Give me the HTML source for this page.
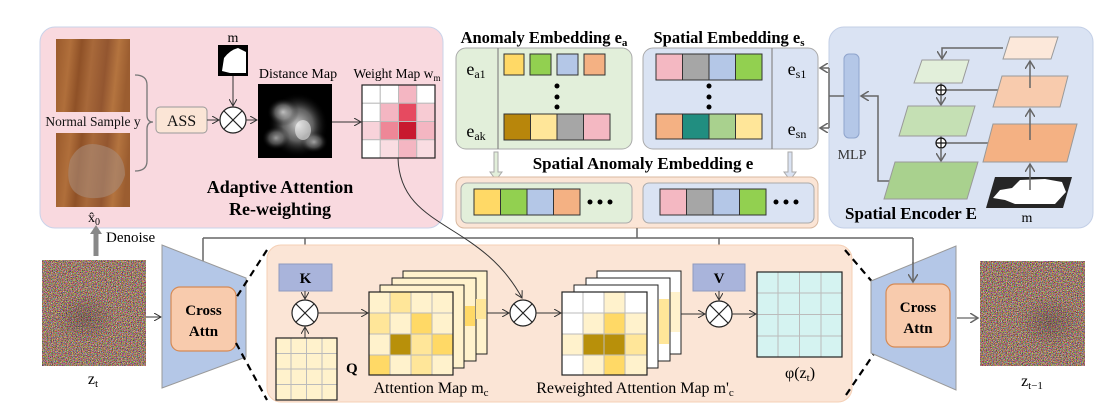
<!DOCTYPE html>
<html><head><meta charset="utf-8"><style>
html,body{margin:0;padding:0;background:#fff;}
svg{display:block;font-family:"Liberation Serif",serif;}
</style></head><body>
<svg width="1108" height="417" viewBox="0 0 1108 417" xmlns="http://www.w3.org/2000/svg">
<defs>
<marker id="ar" markerWidth="8" markerHeight="8" refX="7" refY="4" orient="auto" markerUnits="userSpaceOnUse"><path d="M0,0 L7,4 L0,8" fill="none" stroke="#333" stroke-width="1"/></marker>
<marker id="arg" markerWidth="10" markerHeight="10" refX="8" refY="5" orient="auto" markerUnits="userSpaceOnUse"><path d="M0,0 L8,5 L0,10" fill="none" stroke="#666" stroke-width="1.5"/></marker>
<filter id="noise" x="0" y="0" width="100%" height="100%" color-interpolation-filters="sRGB"><feTurbulence type="fractalNoise" baseFrequency="1.2" numOctaves="1" seed="3"/><feColorMatrix type="matrix" values="2 0 0 0 -0.4  0 2 0 0 -0.52  0 0 2 0 -0.58  0 0 0 0 1"/></filter>
<linearGradient id="wood" x1="0" y1="0" x2="1" y2="0.1">
<stop offset="0" stop-color="#9a5a2c"/><stop offset="0.2" stop-color="#b06f3b"/><stop offset="0.35" stop-color="#8f5127"/><stop offset="0.5" stop-color="#a8693a"/><stop offset="0.7" stop-color="#935630"/><stop offset="0.85" stop-color="#b4743f"/><stop offset="1" stop-color="#9b5d30"/></linearGradient>
<radialGradient id="blob" cx="0.5" cy="0.5" r="0.5"><stop offset="0" stop-color="#fff"/><stop offset="0.5" stop-color="#aaa" stop-opacity="0.7"/><stop offset="1" stop-color="#000" stop-opacity="0"/></radialGradient>
<radialGradient id="dark" cx="0.5" cy="0.5" r="0.5"><stop offset="0" stop-color="#3a2a30" stop-opacity="0.3"/><stop offset="1" stop-color="#3a2a30" stop-opacity="0"/></radialGradient>
</defs>

<!-- Pink panel -->
<rect x="40" y="27" width="403" height="201" rx="15" fill="#f9d9df" stroke="#c9d3ea" stroke-width="1"/>
<rect x="56" y="39" width="74" height="73" fill="url(#wood)"/>
<rect x="56" y="133" width="74" height="74" fill="url(#wood)"/>
<path d="M70,160 Q80,140 100,145 Q125,150 125,175 Q118,200 90,198 Q62,195 70,160Z" fill="#a88a78" opacity="0.6"/>
<text x="93" y="126" font-size="13.5" text-anchor="middle" fill="#111">Normal Sample y</text>
<path d="M135,75 Q147,75 147,85 L147,115 Q147,122 153,122 Q147,122 147,129 L147,161 Q147,171 135,171" fill="none" stroke="#777" stroke-width="1.3"/>
<rect x="156" y="107" width="51" height="26" rx="4" fill="#fbe5d6" stroke="#999"/>
<text x="181.5" y="126" font-size="16" text-anchor="middle" fill="#111">ASS</text>
<line x1="207" y1="120" x2="219" y2="120" stroke="#333" marker-end="url(#ar)"/>
<text x="233" y="42" font-size="14" text-anchor="middle">m</text>
<rect x="218" y="45" width="30" height="31" fill="#000"/>
<path d="M222,71 L224,58 Q230,50 238,48 L246,52 L246,73 L230,73 Z" fill="#fff"/>
<line x1="233" y1="76" x2="233" y2="106" stroke="#333" marker-end="url(#ar)"/>
<circle cx="233" cy="120" r="13" fill="#fff" stroke="#222" stroke-width="1.2"/>
<path d="M224,111 L242,129 M242,111 L224,129" stroke="#222" stroke-width="1.2"/>
<line x1="246" y1="120" x2="257" y2="120" stroke="#333" marker-end="url(#ar)"/>
<text x="298" y="78" font-size="14" text-anchor="middle">Distance Map</text>
<rect x="258" y="84" width="74" height="74" fill="#000"/>
<ellipse cx="298" cy="125" rx="30" ry="32" fill="url(#blob)" opacity="0.8"/>
<ellipse cx="283" cy="112" rx="16" ry="14" fill="url(#blob)" opacity="0.7"/>
<ellipse cx="276" cy="138" rx="14" ry="12" fill="url(#blob)" opacity="0.6"/>
<ellipse cx="314" cy="142" rx="14" ry="11" fill="url(#blob)" opacity="0.6"/>
<ellipse cx="303" cy="130" rx="8" ry="10" fill="#fff" opacity="0.5"/>
<line x1="332" y1="122" x2="361" y2="122" stroke="#333" marker-end="url(#ar)"/>
<text x="397" y="78" font-size="13.5" text-anchor="middle">Weight Map w<tspan font-size="9" dy="3">m</tspan></text>
<g stroke="#bbb" stroke-width="1">
<rect x="362" y="85" width="18.25" height="18.25" fill="#fff"/><rect x="380.25" y="85" width="18.25" height="18.25" fill="#fff"/><rect x="398.5" y="85" width="18.25" height="18.25" fill="#f4b6c2"/><rect x="416.75" y="85" width="18.25" height="18.25" fill="#fff"/>
<rect x="362" y="103.25" width="18.25" height="18.25" fill="#fff"/><rect x="380.25" y="103.25" width="18.25" height="18.25" fill="#f4b6c2"/><rect x="398.5" y="103.25" width="18.25" height="18.25" fill="#e64a60"/><rect x="416.75" y="103.25" width="18.25" height="18.25" fill="#f7cbd3"/>
<rect x="362" y="121.5" width="18.25" height="18.25" fill="#f8d3da"/><rect x="380.25" y="121.5" width="18.25" height="18.25" fill="#ee8797"/><rect x="398.5" y="121.5" width="18.25" height="18.25" fill="#c8192f"/><rect x="416.75" y="121.5" width="18.25" height="18.25" fill="#f4b6c2"/>
<rect x="362" y="139.75" width="18.25" height="18.25" fill="#fff"/><rect x="380.25" y="139.75" width="18.25" height="18.25" fill="#f9dde2"/><rect x="398.5" y="139.75" width="18.25" height="18.25" fill="#f4b6c2"/><rect x="416.75" y="139.75" width="18.25" height="18.25" fill="#f9dde2"/>
</g>
<rect x="362" y="85" width="73" height="73" fill="none" stroke="#222" stroke-width="1.2"/>
<text x="280" y="193" font-size="18" font-weight="bold" text-anchor="middle">Adaptive Attention</text>
<text x="280" y="215" font-size="18" font-weight="bold" text-anchor="middle">Re-weighting</text>
<text x="94" y="222" font-size="14" text-anchor="middle">x̂<tspan font-size="10" dy="3">0</tspan></text>
<line x1="96" y1="256" x2="96" y2="232" stroke="#888" stroke-width="5"/>
<path d="M90,234 L96,225 L102,234Z" fill="#888"/>
<text x="106" y="242" font-size="15">Denoise</text>

<!-- Anomaly embedding -->
<text x="544" y="43" font-size="16.5" font-weight="bold" text-anchor="middle">Anomaly Embedding e<tspan font-size="11" dy="3">a</tspan></text>
<rect x="456" y="48" width="176" height="101" rx="10" fill="#e2efda" stroke="#aaa"/>
<line x1="498" y1="48" x2="498" y2="149" stroke="#888" stroke-width="1.2"/>
<text x="476" y="75" font-size="18" text-anchor="middle">e<tspan font-size="12" dy="3">a1</tspan></text>
<text x="476" y="137" font-size="18" text-anchor="middle">e<tspan font-size="12" dy="3">ak</tspan></text>
<g stroke="#333" stroke-width="1">
<rect x="504" y="54" width="20" height="21" fill="#ffd966"/><rect x="530" y="54" width="21" height="21" fill="#92d050"/><rect x="557" y="54" width="21" height="21" fill="#b4c7e7"/><rect x="584" y="54" width="21" height="21" fill="#f4b183"/>
<rect x="504" y="114" width="26.5" height="26" fill="#b8860b"/><rect x="530.5" y="114" width="26.5" height="26" fill="#ffe699"/><rect x="557" y="114" width="26.5" height="26" fill="#a6a6a6"/><rect x="583.5" y="114" width="26.5" height="26" fill="#f4b8c2"/>
</g>
<circle cx="557" cy="86" r="2.5"/><circle cx="557" cy="97" r="2.5"/><circle cx="557" cy="107" r="2.5"/>

<!-- Spatial embedding -->
<text x="729" y="43" font-size="16.5" font-weight="bold" text-anchor="middle">Spatial Embedding e<tspan font-size="11" dy="3">s</tspan></text>
<rect x="643" y="48" width="175" height="101" rx="10" fill="#dae3f3" stroke="#aaa"/>
<line x1="772" y1="48" x2="772" y2="149" stroke="#888" stroke-width="1.2"/>
<text x="797" y="75" font-size="18" text-anchor="middle">e<tspan font-size="12" dy="3">s1</tspan></text>
<text x="797" y="135" font-size="18" text-anchor="middle">e<tspan font-size="12" dy="3">sn</tspan></text>
<g stroke="#333" stroke-width="1">
<rect x="656" y="54" width="26.5" height="26" fill="#f4b8c2"/><rect x="682.5" y="54" width="26.5" height="26" fill="#a6a6a6"/><rect x="709" y="54" width="26.5" height="26" fill="#b4c7e7"/><rect x="735.5" y="54" width="26.5" height="26" fill="#92d050"/>
<rect x="656" y="114" width="26.5" height="25" fill="#f4b183"/><rect x="682.5" y="114" width="26.5" height="25" fill="#218e80"/><rect x="709" y="114" width="26.5" height="25" fill="#a9d18e"/><rect x="735.5" y="114" width="26.5" height="25" fill="#ffe699"/>
</g>
<circle cx="709" cy="86" r="2.5"/><circle cx="709" cy="97" r="2.5"/><circle cx="709" cy="107" r="2.5"/>

<!-- hollow arrows -->
<path d="M494,152 L494,172 L490,172 L496,180 L502,172 L498,172 L498,152Z" fill="#e2efda" stroke="#aaa"/>
<path d="M788,152 L788,172 L784,172 L790,180 L796,172 L792,172 L792,152Z" fill="#dae3f3" stroke="#aaa"/>
<text x="643" y="169" font-size="17" font-weight="bold" text-anchor="middle">Spatial Anomaly Embedding e</text>
<rect x="456" y="177" width="362" height="51" rx="8" fill="#fbe5d6" stroke="#d9b9a0"/>
<rect x="461" y="183" width="171" height="40" rx="6" fill="#e2efda" stroke="#aaa"/>
<rect x="643" y="183" width="171" height="40" rx="6" fill="#dae3f3" stroke="#aaa"/>
<g stroke="#333" stroke-width="1">
<rect x="474" y="189" width="26.5" height="26" fill="#ffd966"/><rect x="500.5" y="189" width="26.5" height="26" fill="#92d050"/><rect x="527" y="189" width="26.5" height="26" fill="#b4c7e7"/><rect x="553.5" y="189" width="26.5" height="26" fill="#f4b183"/>
<rect x="660" y="189" width="26.5" height="26" fill="#f4b8c2"/><rect x="686.5" y="189" width="26.5" height="26" fill="#a6a6a6"/><rect x="713" y="189" width="26.5" height="26" fill="#b4c7e7"/><rect x="739.5" y="189" width="26.5" height="26" fill="#92d050"/>
</g>
<circle cx="590" cy="202" r="2.5"/><circle cx="600" cy="202" r="2.5"/><circle cx="610" cy="202" r="2.5"/>
<circle cx="776" cy="202" r="2.5"/><circle cx="786" cy="202" r="2.5"/><circle cx="796" cy="202" r="2.5"/>

<!-- Spatial encoder -->
<rect x="829" y="27" width="264" height="201" rx="15" fill="#dae3f3" stroke="#c3cfe6"/>
<rect x="844" y="54" width="15" height="84" rx="5" fill="#b4c7e7" stroke="#8fa4cc"/>
<text x="852" y="159" font-size="14" text-anchor="middle" fill="#333">MLP</text>
<g fill="none" stroke="#666" stroke-width="1.5">
<line x1="844" y1="96" x2="829" y2="96"/>
<line x1="829" y1="68" x2="829" y2="128"/>
<line x1="829" y1="68" x2="820" y2="68" marker-end="url(#arg)"/>
<line x1="829" y1="128" x2="820" y2="128" marker-end="url(#arg)"/>
<polyline points="892,181 878,181 878,96 861,96" marker-end="url(#arg)"/>
<polyline points="1003,48 942,48 942,59" marker-end="url(#arg)"/>
<line x1="941" y1="90" x2="1000" y2="90"/>
<line x1="941" y1="143" x2="990" y2="143"/>
<line x1="941" y1="96" x2="941" y2="105" marker-end="url(#arg)"/>
<line x1="941" y1="149" x2="941" y2="161" marker-end="url(#arg)"/>
<line x1="941" y1="83" x2="941" y2="85"/><line x1="941" y1="136" x2="941" y2="138"/>
</g>
<polygon points="1003,59 1010,37 1058,37 1051,59" fill="#fce8da" stroke="#999"/>
<polygon points="993,107 1002,76 1068,76 1060,107" fill="#f8cbad" stroke="#999"/>
<polygon points="983,162 993,124 1077,124 1067,162" fill="#f4b183" stroke="#999"/>
<polygon points="986,208 995,177 1072,177 1063,208" fill="#262626"/>
<path d="M993,198 L1000,190 L1012,188 L1020,180 L1045,179 L1062,182 L1066,192 L1055,204 L1015,204 L1005,200Z" fill="#fff"/>
<polygon points="914,83 922,60 969,60 962,83" fill="#e2efda" stroke="#999"/>
<polygon points="899,136 908,106 975,106 966,136" fill="#c5e0b4" stroke="#999"/>
<polygon points="884,199 895,162 978,162 967,199" fill="#a9d18e" stroke="#999"/>
<g fill="none" stroke="#666" stroke-width="1.5">
<line x1="1030" y1="190" x2="1030" y2="164" marker-end="url(#arg)"/>
<line x1="1030" y1="140" x2="1030" y2="109" marker-end="url(#arg)"/>
<line x1="1030" y1="88" x2="1030" y2="61" marker-end="url(#arg)"/>
</g>
<circle cx="941" cy="90" r="5" fill="#fff" stroke="#111" stroke-width="1.2"/><path d="M936,90 H946 M941,85 V95" stroke="#111" stroke-width="1.2"/>
<circle cx="941" cy="143" r="5" fill="#fff" stroke="#111" stroke-width="1.2"/><path d="M936,143 H946 M941,138 V148" stroke="#111" stroke-width="1.2"/>
<text x="911" y="219" font-size="17" font-weight="bold" text-anchor="middle">Spatial Encoder E</text>
<text x="1027" y="222" font-size="14" text-anchor="middle">m</text>

<!-- bottom connectors -->
<g fill="none" stroke="#666" stroke-width="1.5">
<line x1="637" y1="228" x2="637" y2="238"/>
<line x1="203" y1="238" x2="913" y2="238"/>
<line x1="203" y1="238" x2="203" y2="285" marker-end="url(#arg)"/>
<line x1="305" y1="238" x2="305" y2="262" marker-end="url(#arg)"/>
<line x1="719" y1="238" x2="719" y2="262" marker-end="url(#arg)"/>
<line x1="913" y1="238" x2="913" y2="282" marker-end="url(#arg)"/>
</g>

<!-- orange main panel -->
<rect x="267" y="245" width="585" height="157" rx="14" fill="#fbe5d6" stroke="#f5d0b6"/>

<!-- z_t -->
<rect x="42" y="260" width="104" height="106" filter="url(#noise)"/>
<ellipse cx="85" cy="318" rx="30" ry="25" fill="url(#dark)"/>
<text x="93" y="384" font-size="16" text-anchor="middle">z<tspan font-size="11" dy="3">t</tspan></text>
<line x1="146" y1="317" x2="161" y2="317" stroke="#333" marker-end="url(#ar)"/>
<polygon points="162,245 246,278 246,357 162,388" fill="#b4c7e7" stroke="#999"/>
<rect x="171" y="287" width="65" height="64" rx="9" fill="#f8cbad" stroke="#d58a55" stroke-width="1.2"/>
<text x="203.5" y="315" font-size="15" font-weight="bold" text-anchor="middle">Cross</text>
<text x="203.5" y="336" font-size="15" font-weight="bold" text-anchor="middle">Attn</text>
<line x1="267" y1="250" x2="236" y2="298" stroke="#000" stroke-width="2.2" stroke-dasharray="7,5"/>
<line x1="236" y1="343" x2="267" y2="400" stroke="#000" stroke-width="2.2" stroke-dasharray="7,5"/>

<!-- right side -->
<line x1="845" y1="250" x2="886" y2="298" stroke="#000" stroke-width="2.2" stroke-dasharray="7,5"/>
<line x1="846" y1="395" x2="886" y2="336" stroke="#000" stroke-width="2.2" stroke-dasharray="7,5"/>
<polygon points="871,281 956,246 956,390 871,353" fill="#b4c7e7" stroke="#999"/>
<rect x="886" y="284" width="64" height="63" rx="9" fill="#f8cbad" stroke="#d58a55" stroke-width="1.2"/>
<text x="918" y="312" font-size="15" font-weight="bold" text-anchor="middle">Cross</text>
<text x="918" y="333" font-size="15" font-weight="bold" text-anchor="middle">Attn</text>
<line x1="913" y1="262" x2="913" y2="282" stroke="#666" stroke-width="1.5" marker-end="url(#arg)"/>
<line x1="957" y1="318" x2="978" y2="318" stroke="#666" stroke-width="1.2" marker-end="url(#arg)"/>
<rect x="980" y="261" width="105" height="105" filter="url(#noise)"/>
<ellipse cx="1050" cy="322" rx="32" ry="26" fill="url(#dark)"/>
<text x="1032" y="386" font-size="16" text-anchor="middle">z<tspan font-size="11" dy="3">t−1</tspan></text>

<!-- K, Q -->
<rect x="279" y="264" width="53" height="27" fill="#a9b4db" stroke="#8f9abf"/>
<text x="305.5" y="283" font-size="15" font-weight="bold" text-anchor="middle">K</text>
<line x1="305" y1="291" x2="305" y2="299" stroke="#333" marker-end="url(#ar)"/>
<circle cx="305" cy="313" r="13" fill="#fff" stroke="#222" stroke-width="1.2"/>
<path d="M296,304 L314,322 M314,304 L296,322" stroke="#222" stroke-width="1.2"/>
<line x1="305" y1="338" x2="305" y2="327" stroke="#333" marker-end="url(#ar)"/>
<g stroke="#bbb"><rect x="276" y="338" width="61" height="62" fill="#fff2cc"/>
<line x1="291" y1="338" x2="291" y2="400"/><line x1="306.5" y1="338" x2="306.5" y2="400"/><line x1="322" y1="338" x2="322" y2="400"/>
<line x1="276" y1="353.5" x2="337" y2="353.5"/><line x1="276" y1="369" x2="337" y2="369"/><line x1="276" y1="384.5" x2="337" y2="384.5"/></g>
<rect x="276" y="338" width="61" height="62" fill="none" stroke="#222" stroke-width="1.2"/>
<text x="346" y="373" font-size="15" font-weight="bold">Q</text>
<line x1="318" y1="313" x2="368" y2="313" stroke="#333" marker-end="url(#ar)"/>

<!-- attention map stack -->
<rect x="403" y="271" width="84" height="83" fill="#fff2cc" stroke="#222"/>
<rect x="392" y="278" width="84" height="83" fill="#fff2cc" stroke="#222"/>
<rect x="380" y="285" width="84" height="83" fill="#fff2cc" stroke="#222"/>
<rect x="465" y="306" width="10" height="20" fill="#ffd966"/>
<rect x="476" y="299" width="10" height="20" fill="#ffe699"/>
<g stroke="#bbb">
<rect x="369" y="292" width="21" height="21" fill="#fff2cc"/><rect x="390" y="292" width="21" height="21" fill="#ffe699"/><rect x="411" y="292" width="21" height="21" fill="#fff2cc"/><rect x="432" y="292" width="21" height="21" fill="#fff2cc"/>
<rect x="369" y="313" width="21" height="21" fill="#ffe699"/><rect x="390" y="313" width="21" height="21" fill="#fff2cc"/><rect x="411" y="313" width="21" height="21" fill="#ffd966"/><rect x="432" y="313" width="21" height="21" fill="#fff2cc"/>
<rect x="369" y="334" width="21" height="21" fill="#fff2cc"/><rect x="390" y="334" width="21" height="21" fill="#b8900a"/><rect x="411" y="334" width="21" height="21" fill="#ffe699"/><rect x="432" y="334" width="21" height="21" fill="#ffd966"/>
<rect x="369" y="355" width="21" height="20" fill="#ffd966"/><rect x="390" y="355" width="21" height="20" fill="#fff2cc"/><rect x="411" y="355" width="21" height="20" fill="#ffe699"/><rect x="432" y="355" width="21" height="20" fill="#fff2cc"/>
</g>
<rect x="369" y="292" width="84" height="83" fill="none" stroke="#222" stroke-width="1.2"/>
<text x="431" y="393" font-size="16" text-anchor="middle">Attention Map m<tspan font-size="11" dy="3">c</tspan></text>
<line x1="487" y1="313" x2="509" y2="313" stroke="#333" marker-end="url(#ar)"/>
<circle cx="523" cy="313" r="13" fill="#fff" stroke="#222" stroke-width="1.2"/>
<path d="M514,304 L532,322 M532,304 L514,322" stroke="#222" stroke-width="1.2"/>
<path d="M398,158 C400,230 480,220 522,298" fill="none" stroke="#333" stroke-width="1" marker-end="url(#ar)"/>
<line x1="536" y1="313" x2="561" y2="313" stroke="#333" marker-end="url(#ar)"/>

<!-- reweighted stack -->
<rect x="597" y="271" width="84" height="83" fill="#fff" stroke="#222"/>
<rect x="659" y="292" width="21" height="40" fill="#fff2cc"/>
<rect x="586" y="278" width="84" height="83" fill="#fff" stroke="#222"/>
<rect x="659" y="299" width="10" height="45" fill="#ffe699"/>
<rect x="574" y="285" width="84" height="83" fill="#fff" stroke="#222"/>
<g stroke="#bbb">
<rect x="562" y="292" width="21" height="21" fill="#fff"/><rect x="583" y="292" width="21" height="21" fill="#fff"/><rect x="604" y="292" width="21" height="21" fill="#fff2cc"/><rect x="625" y="292" width="22" height="21" fill="#fff"/>
<rect x="562" y="313" width="21" height="21" fill="#fff"/><rect x="583" y="313" width="21" height="21" fill="#fff2cc"/><rect x="604" y="313" width="21" height="21" fill="#ffd966"/><rect x="625" y="313" width="22" height="21" fill="#fff2cc"/>
<rect x="562" y="334" width="21" height="21" fill="#fff2cc"/><rect x="583" y="334" width="21" height="21" fill="#b8900a"/><rect x="604" y="334" width="21" height="21" fill="#b8900a"/><rect x="625" y="334" width="22" height="21" fill="#ffe699"/>
<rect x="562" y="355" width="21" height="20" fill="#fff"/><rect x="583" y="355" width="21" height="20" fill="#fff2cc"/><rect x="604" y="355" width="21" height="20" fill="#ffd966"/><rect x="625" y="355" width="22" height="20" fill="#fff2cc"/>
</g>
<rect x="562" y="292" width="85" height="83" fill="none" stroke="#222" stroke-width="1.2"/>
<text x="635" y="393" font-size="16" text-anchor="middle">Reweighted  Attention Map m'<tspan font-size="11" dy="3">c</tspan></text>

<!-- V, phi -->
<rect x="693" y="264" width="52" height="27" fill="#a9b4db" stroke="#8f9abf"/>
<text x="719" y="283" font-size="15" font-weight="bold" text-anchor="middle">V</text>
<line x1="719" y1="291" x2="719" y2="300" stroke="#333" marker-end="url(#ar)"/>
<line x1="681" y1="314" x2="705" y2="314" stroke="#333" marker-end="url(#ar)"/>
<circle cx="719" cy="314" r="13" fill="#fff" stroke="#222" stroke-width="1.2"/>
<path d="M710,305 L728,323 M728,305 L710,323" stroke="#222" stroke-width="1.2"/>
<line x1="732" y1="314" x2="756" y2="314" stroke="#333" marker-end="url(#ar)"/>
<g stroke="#bbb"><rect x="757" y="272" width="85" height="85" fill="#d5f3f1"/>
<line x1="778" y1="272" x2="778" y2="357"/><line x1="799.5" y1="272" x2="799.5" y2="357"/><line x1="821" y1="272" x2="821" y2="357"/>
<line x1="757" y1="293" x2="842" y2="293"/><line x1="757" y1="314.5" x2="842" y2="314.5"/><line x1="757" y1="336" x2="842" y2="336"/></g>
<rect x="757" y="272" width="85" height="85" fill="none" stroke="#222" stroke-width="1.2"/>
<text x="800" y="378" font-size="16" text-anchor="middle">φ(z<tspan font-size="11" dy="3">t</tspan><tspan dy="-3">)</tspan></text>
</svg>
</body></html>
